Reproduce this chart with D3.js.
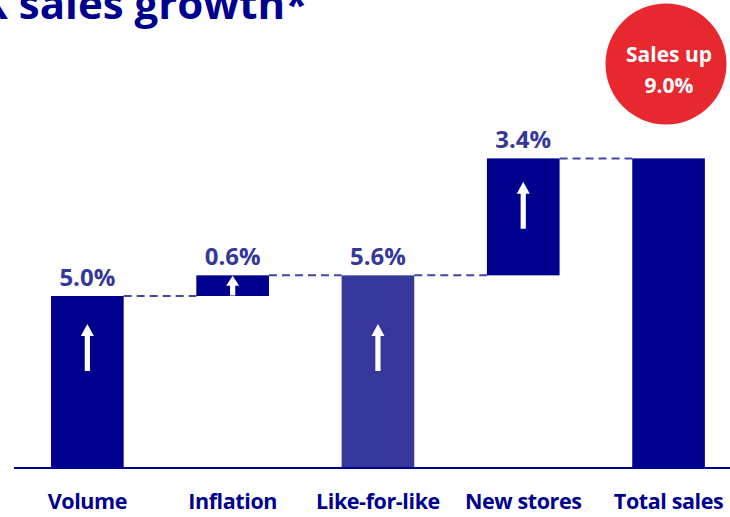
<!DOCTYPE html>
<html>
<head>
<meta charset="utf-8">
<script src="https://cdn.jsdelivr.net/npm/d3@7"></script>
<style>
  html, body { margin: 0; padding: 0; background: #fff; }
  svg { display: block; }
  text { font-family: "Open Sans", "Noto Sans", sans-serif; font-weight: 700; }
</style>
</head>
<body>
<svg id="chart" width="730" height="517"></svg>
<script>
// Sales growth bridge: contributions stacked up to the total
const categories = ["Volume", "Inflation", "Like-for-like", "New stores", "Total sales"];
const values = [5.0, 0.6, 5.6, 3.4, 9.0];
const kinds = ["step", "step", "subtotal", "step", "total"];
const valueLabels = ["5.0%", "0.6%", "5.6%", "3.4%", ""];
const titleText = "UK sales growth*";
const badgeLines = ["Sales up", "9.0%"];

const W = 730, H = 517;
const navy = "#00008f";
const navyLight = "#36389b";
const labelColor = "#35389a";
const red = "#e8282f";

const svg = d3.select("#chart");

const x = d3.scaleBand()
  .domain(categories)
  .range([14.7, 741.2])
  .paddingInner(0.5)
  .paddingOuter(0.25);

const y = d3.scaleLinear().domain([0, 10]).range([468, 124]);

// running totals: steps float on the previous level, totals start at zero
let running = 0;
const bars = categories.map((c, i) => {
  let base, end;
  if (kinds[i] === "step") { base = running; end = running + values[i]; }
  else { base = 0; end = values[i]; }
  running = end;
  return { cat: c, base, end, kind: kinds[i], label: valueLabels[i] };
});

// dashed connectors between consecutive bars
const connectors = bars.slice(0, -1).map((b, i) => ({ from: b, to: bars[i + 1] }));
svg.append("g").selectAll("line").data(connectors).join("line")
  .attr("x1", d => x(d.from.cat) + x.bandwidth())
  .attr("x2", d => x(d.to.cat))
  .attr("y1", d => y(d.from.end))
  .attr("y2", d => y(d.from.end))
  .attr("stroke", "#4446a3")
  .attr("stroke-width", 2)
  .attr("stroke-dasharray", "8,5");

// bars
svg.append("g").selectAll("rect").data(bars).join("rect")
  .attr("x", d => x(d.cat))
  .attr("width", x.bandwidth())
  .attr("y", d => y(d.end))
  .attr("height", d => y(d.base) - y(d.end))
  .attr("fill", d => d.kind === "subtotal" ? navyLight : navy);

// white up-arrows inside the rising bars
const arrowBars = bars.filter(d => d.kind !== "total");
const arrowG = svg.append("g");
arrowBars.forEach(d => {
  const top = y(d.end), bottom = y(d.base), h = bottom - top;
  const len = Math.min(47, h - 1);
  const cy = h < 60 ? top + h / 2 : Math.min(y(3.5), top + 0.4 * h);
  const tip = cy - len / 2, tail = cy + len / 2;
  const cx = x(d.cat) + x.bandwidth() / 2;
  const headH = Math.min(12, len * 0.5), headW = 6.5, shaft = 2.6;
  arrowG.append("path")
    .attr("d", `M${cx},${tip} L${cx + headW},${tip + headH} L${cx + shaft},${tip + headH} L${cx + shaft},${tail} L${cx - shaft},${tail} L${cx - shaft},${tip + headH} L${cx - headW},${tip + headH} Z`)
    .attr("fill", "#fff");
});

// value labels above bars
svg.append("g").selectAll("text").data(bars.filter(d => d.label)).join("text")
  .attr("x", d => x(d.cat) + x.bandwidth() / 2)
  .attr("y", d => y(d.end) - 10)
  .attr("text-anchor", "middle")
  .attr("font-size", 24)
  .attr("font-weight", 800)
  .attr("fill", labelColor)
  .text(d => d.label);

// baseline axis with category labels
const xAxis = d3.axisBottom(x).tickSize(0).tickPadding(26);
const axisG = svg.append("g").attr("transform", `translate(0,${y(0)})`).call(xAxis);
axisG.select(".domain").attr("d", `M14,0H730`).attr("stroke", navy).attr("stroke-width", 2.2);
axisG.selectAll(".tick text")
  .attr("font-size", 21.5)
  .attr("font-family", "'Open Sans', sans-serif")
  .attr("font-weight", 700)
  .attr("letter-spacing", -0.4)
  .attr("fill", navy)
  .attr("dy", "0.71em");

// title (runs off the left edge)
svg.append("text")
  .attr("x", 308).attr("y", 19)
  .attr("text-anchor", "end")
  .attr("font-size", 42)
  .attr("font-weight", 800)
  .attr("fill", navy)
  .text(titleText);

// red badge with total growth
const badge = svg.append("g").attr("transform", "translate(666,64)");
badge.append("circle").attr("r", 60.5).attr("fill", red);
badge.selectAll("text").data(badgeLines).join("text")
  .attr("x", 3)
  .attr("y", (d, i) => i === 0 ? -2 : 29)
  .attr("text-anchor", "middle")
  .attr("font-size", 21)
  .attr("font-weight", 800)
  .attr("fill", "#fff")
  .text(d => d);
</script>
</body>
</html>
